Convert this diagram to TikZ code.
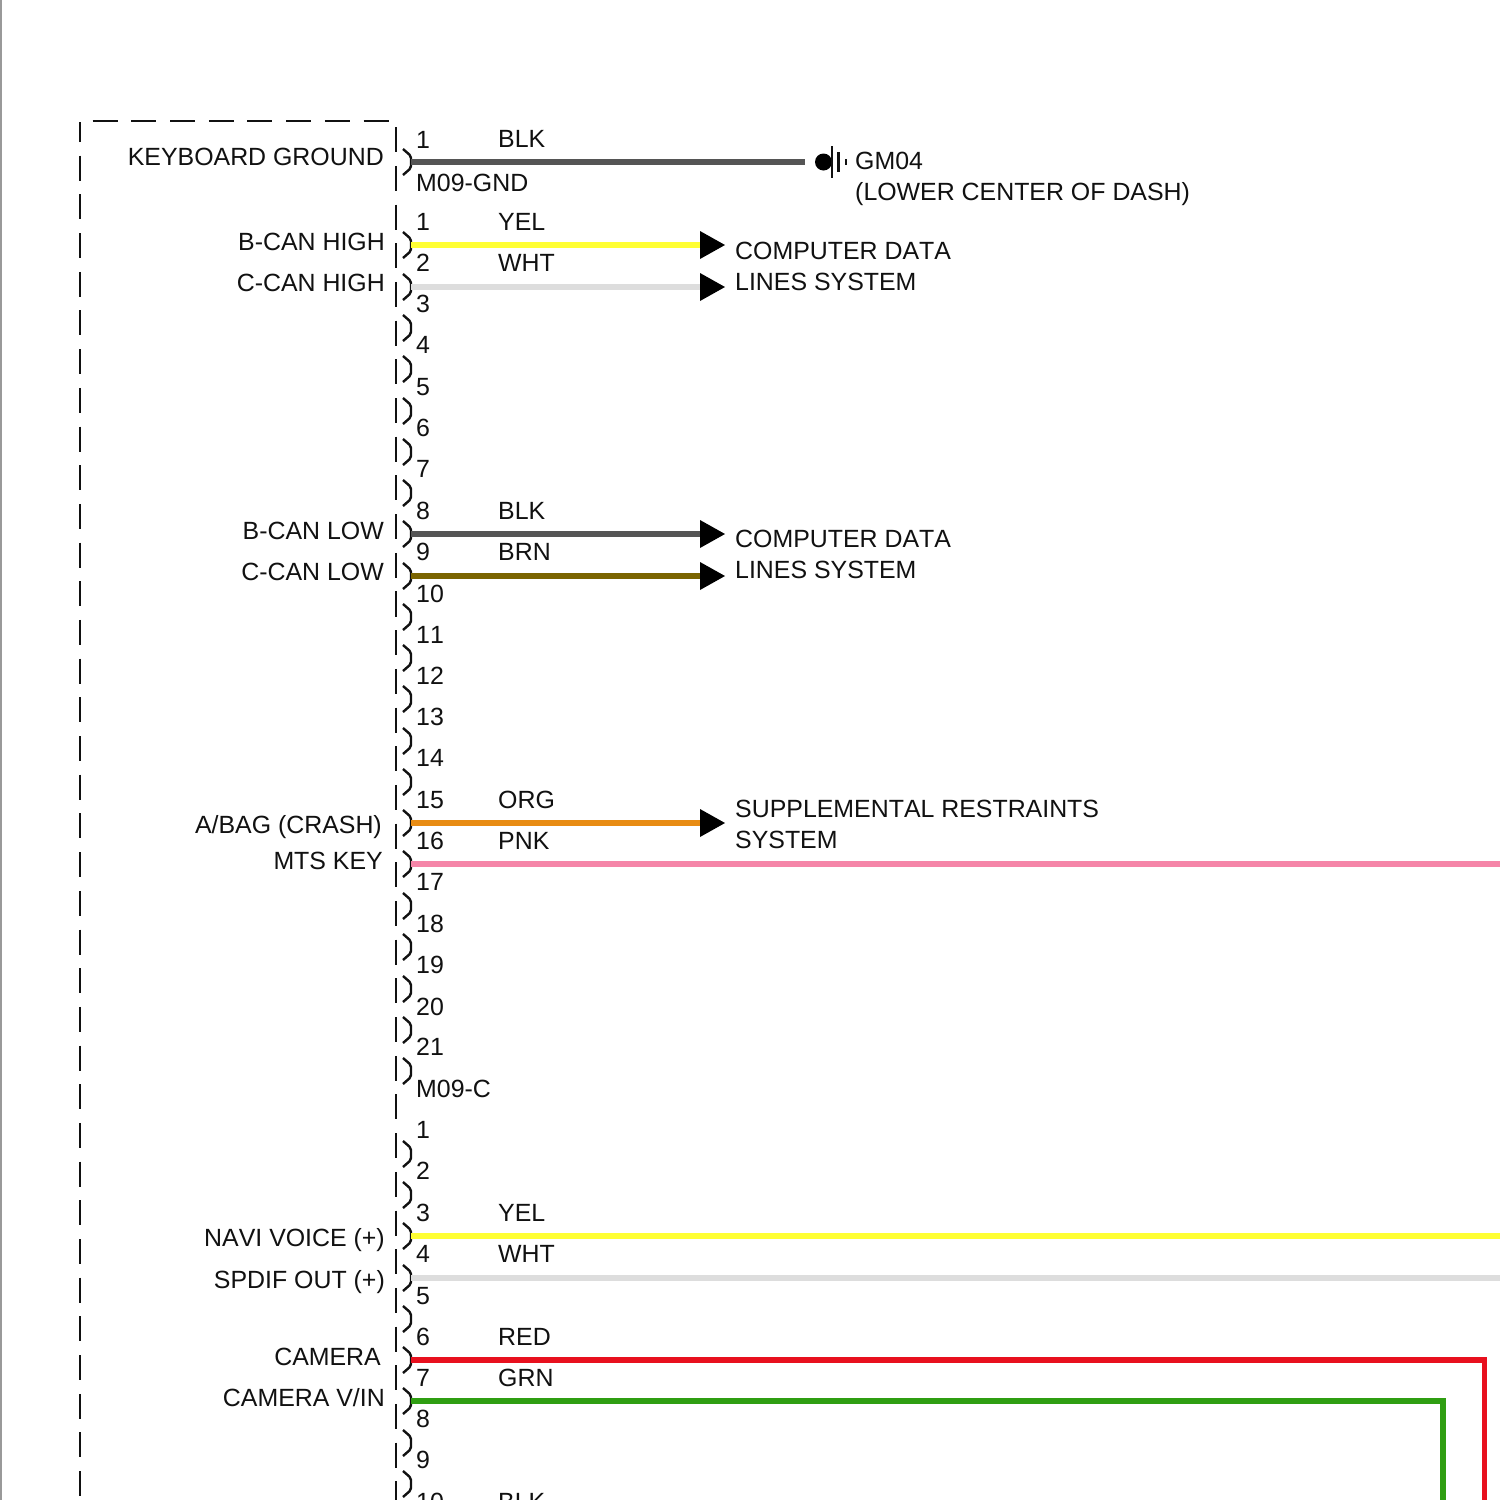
\documentclass[tikz,border=0pt]{standalone}
\usepackage{fontspec}
\setmainfont[Kerning=Off]{Liberation Sans}
\definecolor{wireblk}{HTML}{555555}
\definecolor{wireyel}{HTML}{FFFF33}
\definecolor{wirewht}{HTML}{DDDDDD}
\definecolor{wirebrn}{HTML}{7A6400}
\definecolor{wireorg}{HTML}{E88C14}
\definecolor{wirepnk}{HTML}{F585A8}
\definecolor{wirered}{HTML}{E8101E}
\definecolor{wiregrn}{HTML}{2F9E12}
\definecolor{inktext}{HTML}{111111}
\tikzset{
  txt/.style={inner sep=0pt,text=inktext,font=\fontsize{24.9}{28}\selectfont},
  lefttxt/.style={txt,anchor=base west},
  righttxt/.style={txt,anchor=base east},
  wire/.style={line width=5.5pt},
  pinline/.style={line width=2.4pt,color=inktext,rounded corners=2pt},
  boxline/.style={line width=2.4pt,color=inktext,dash pattern=on 25pt off 13.69pt},
  wirehead/.pic={\fill[black] (0,-14) -- (25,0) -- (0,14) -- cycle;}
}
\begin{document}
\begin{tikzpicture}[x=1pt,y=-1pt]
   \useasboundingbox (0,0) rectangle (1500,1500);
   \clip (0,0) rectangle (1500,1500);
   \fill[white] (0,0) rectangle (1500,1500);
   \draw[line width=2.5pt,color=black!40] (1,0) -- (1,1500);

   % dashed module outline
   \draw[boxline,dash phase=5pt] (80,142) -- (80,121) -- (396,121) -- (396,1500);
   \draw[boxline,dash phase=25pt] (80,142) -- (80,1500);

   % pins
   \foreach \n/\y in {g1/162,c1/245,c2/287,c3/328,c4/369,c5/411,c6/452,c7/493,
      c8/534,c9/576,c10/617,c11/658,c12/699,c13/741,c14/782,c15/823,c16/864,
      c17/906,c18/947,c19/989,c20/1030,c21/1071,
      d1/1154,d2/1195,d3/1236,d4/1278,d5/1319,d6/1360,d7/1401,d8/1443,d9/1484}{
      \coordinate (\n) at (411,\y);
      \draw[pinline] (403,\y-13) -- (411,\y-6) -- (411,\y+6) -- (403,\y+13);
   }

   % pin numbers
   \foreach \n/\t/\y in {ng1/1/148,nc1/1/230,nc2/2/271,nc3/3/312,nc4/4/353,nc5/5/395,
      nc6/6/436,nc7/7/477,nc8/8/519,nc9/9/560,nc10/10/602,nc11/11/643,nc12/12/684,
      nc13/13/725,nc14/14/766,nc15/15/808,nc16/16/849,nc17/17/890,nc18/18/932,
      nc19/19/973,nc20/20/1015,nc21/21/1055,
      nd1/1/1138,nd2/2/1179,nd3/3/1221,nd4/4/1262,nd5/5/1304,nd6/6/1345,nd7/7/1386,
      nd8/8/1427,nd9/9/1468,nd10/10/1510}{
      \node[lefttxt] (\n) at (416,\y) {\t};
   }
   \node[lefttxt] (gndname) at (416,191) {M09-GND};
   \node[lefttxt] (cname) at (416,1097) {M09-C};

   % wire colours
   \foreach \n/\t/\y in {kblk/BLK/147.5,kyel/YEL/230,kwht/WHT/271,kblkb/BLK/519,kbrn/BRN/560,
      korg/ORG/808,kpnk/PNK/849,kyelb/YEL/1221,kwhtb/WHT/1262,kred/RED/1345,
      kgrn/GRN/1386,kblkc/BLK/1510}{
      \node[lefttxt] (\n) at (498,\y) {\t};
   }

   % signal names
   \node[righttxt] (kbgnd) at (384,165) {KEYBOARD GROUND};
   \node[righttxt] (bcanh) at (385,250) {B-CAN HIGH};
   \node[righttxt] (ccanh) at (385,291) {C-CAN HIGH};
   \node[righttxt] (bcanl) at (384,539) {B-CAN LOW};
   \node[righttxt] (ccanl) at (384,580) {C-CAN LOW};
   \node[righttxt] (abag) at (382,833) {A/BAG (CRASH)};
   \node[righttxt] (mtskey) at (383,869) {MTS KEY};
   \node[righttxt] (navi) at (385,1246) {NAVI VOICE (+)};
   \node[righttxt] (spdif) at (385,1288) {SPDIF OUT (+)};
   \node[righttxt] (camera) at (381,1365) {CAMERA};
   \node[righttxt] (camvin) at (385,1406) {CAMERA V/IN};

   % destinations
   \node[lefttxt] (gm) at (855,169.5) {GM04};
   \node[lefttxt] (gmloc) at (855,200.5) {(LOWER CENTER OF DASH)};
   \node[lefttxt] (cdla) at (735,259.5) {COMPUTER DATA};
   \node[lefttxt] (cdlb) at (735,290.5) {LINES SYSTEM};
   \node[lefttxt] (cdma) at (735,547.5) {COMPUTER DATA};
   \node[lefttxt] (cdmb) at (735,578.5) {LINES SYSTEM};
   \node[lefttxt] (srsa) at (735,817.5) {SUPPLEMENTAL RESTRAINTS};
   \node[lefttxt] (srsb) at (735,848.5) {SYSTEM};

   % wire ends
   \coordinate (gndend) at (805,162);
   \coordinate (hyel) at (700,245);
   \coordinate (hwht) at (700,287);
   \coordinate (hblk) at (700,534);
   \coordinate (hbrn) at (700,576);
   \coordinate (horg) at (700,823);
   \coordinate (pnkend) at (1500,864);
   \coordinate (yelend) at (1500,1236);
   \coordinate (whtend) at (1500,1278);
   \coordinate (redturn) at (1484.5,1360);
   \coordinate (redend) at (1484.5,1500);
   \coordinate (grnturn) at (1443,1401);
   \coordinate (grnend) at (1443,1500);

   % wires
   \draw[wire,color=wireblk] (g1) -- (gndend);
   \draw[wire,color=wireyel] (c1) -- (hyel);
   \draw[wire,color=wirewht] (c2) -- (hwht);
   \draw[wire,color=wireblk] (c8) -- (hblk);
   \draw[wire,color=wirebrn] (c9) -- (hbrn);
   \draw[wire,color=wireorg] (c15) -- (horg);
   \draw[wire,color=wirepnk] (c16) -- (pnkend);
   \draw[wire,color=wireyel] (d3) -- (yelend);
   \draw[wire,color=wirewht] (d4) -- (whtend);
   \draw[wire,color=wirered] (d6) -- (redturn) -- (redend);
   \draw[wire,color=wiregrn] (d7) -- (grnturn) -- (grnend);

   % arrow heads
   \foreach \h in {hyel,hwht,hblk,hbrn,horg}{
      \pic at (\h) {wirehead};
   }

   % ground symbol
   \coordinate (gnd) at (823.5,162);
   \fill[black] (gnd) circle(8.5);
   \draw[line width=2.4pt,color=inktext] (832,146) -- (832,178) (838.5,152) -- (838.5,172) (846,159) -- (846,165);
\end{tikzpicture}
\end{document}
